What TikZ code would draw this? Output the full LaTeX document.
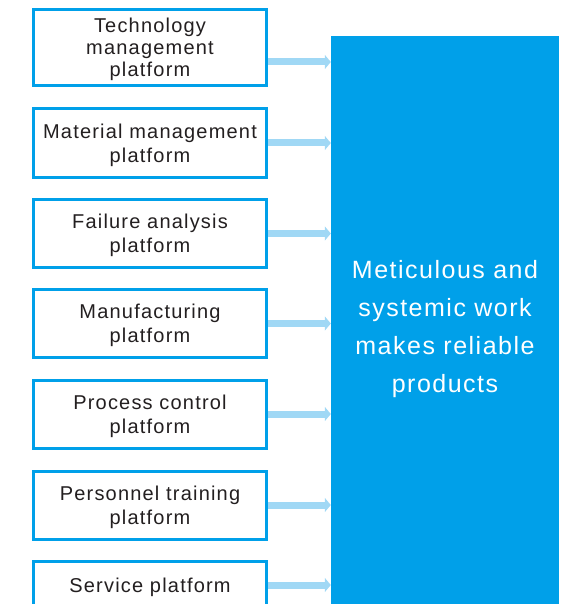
\documentclass[tikz,border=0pt]{standalone}
\usepackage{fontspec}
\setmainfont{Liberation Sans}[LetterSpace=6]
\usetikzlibrary{arrows.meta}
\definecolor{boxblue}{HTML}{00A0E9}
\definecolor{arrowblue}{HTML}{A0D8F5}
\definecolor{ink}{HTML}{231F20}
\tikzset{
  platform/.style={draw=boxblue, line width=3pt, fill=white, minimum width=233pt,
    inner sep=0pt, align=center, text=ink, text depth=0pt, font=\fontsize{20}{24}\selectfont},
  mainbox/.style={fill=boxblue, minimum width=228pt, inner sep=0pt, align=center,
    text=white, text depth=0pt, font=\fontsize{25}{38}\selectfont},
  feed/.style={arrowblue, line width=7pt, -{Triangle[length=6pt,width=14pt]}}
}
\begin{document}
\begin{tikzpicture}[x=1pt,y=-1pt]
\useasboundingbox (0,0) rectangle (568,604);
\clip (0,0) rectangle (568,604);
\node[mainbox, minimum height=580pt] (main) at (445,326) {Meticulous and\\systemic work\\makes reliable\\products};
\node[platform, minimum height=76pt, font=\fontsize{20}{22}\selectfont] (b1) at (150,47.5) {Technology\\management\\platform};
\node[platform, minimum height=68pt] (b2) at (150,143) {Material management\\platform};
\node[platform, minimum height=68pt] (b3) at (150,233.5) {Failure analysis\\platform};
\node[platform, minimum height=68pt] (b4) at (150,323.5) {Manufacturing\\platform};
\node[platform, minimum height=68pt] (b5) at (150,414) {Process control\\platform};
\node[platform, minimum height=68pt] (b6) at (150,505) {Personnel training\\platform};
\node[platform, minimum height=47pt] (b7) at (150,585) {Service platform};
\draw[feed] ([yshift=-14.5pt]b1.east) -- ([yshift=-14.5pt]b1.east -| main.west);
\foreach \b in {b2,b3,b4,b5,b6,b7}{
  \draw[feed] (\b.east) -- (\b.east -| main.west);
}
\end{tikzpicture}
\end{document}
